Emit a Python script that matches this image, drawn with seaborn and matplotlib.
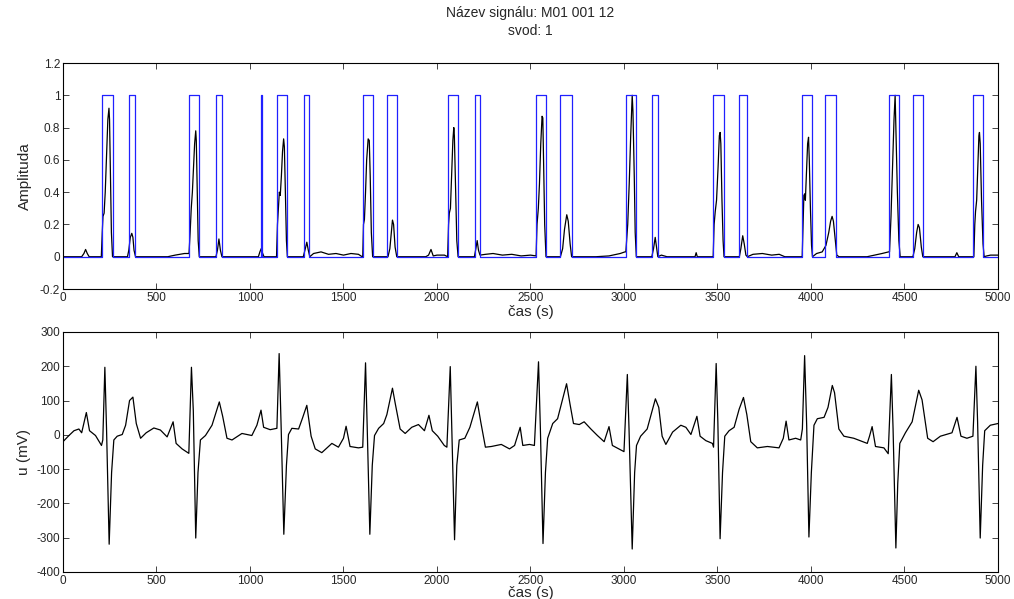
import matplotlib
matplotlib.use("Agg")
import matplotlib.pyplot as plt
import matplotlib.ticker as mticker
import pandas as pd
import seaborn as sns

# --- normalised amplitude (black trace, top panel) ---
amp_t = [0, 100, 112, 121, 130, 140, 205, 210, 214, 220, 226, 232, 240, 246, 249, 254, 259, 265,
         345, 352, 360, 368, 374, 380, 388, 560, 600, 650, 670,
         674, 680, 686, 692, 698, 704, 710, 713, 718, 723, 729,
         818, 826, 834, 842, 850, 1045, 1053, 1060, 1068, 1075,
         1142, 1147, 1152, 1157, 1162, 1168, 1174, 1180, 1184, 1190, 1195, 1200,
         1285, 1296, 1304, 1312, 1320, 1340, 1380, 1420, 1460, 1500, 1540, 1580, 1600,
         1603, 1607, 1612, 1618, 1624, 1632, 1638, 1643, 1649, 1656,
         1738, 1748, 1756, 1762, 1768, 1776, 1785, 1940, 1955, 1968, 1980, 2000, 2040,
         2057, 2062, 2066, 2072, 2078, 2085, 2090, 2093, 2100, 2106, 2113,
         2200, 2208, 2215, 2222, 2230, 2260, 2300, 2350, 2400, 2450, 2500, 2528,
         2530, 2535, 2542, 2548, 2555, 2562, 2566, 2570, 2576, 2583,
         2660, 2672, 2682, 2694, 2702, 2712, 2720, 2850, 2920, 2980, 3005,
         3010, 3020, 3028, 3036, 3044, 3048, 3055, 3060, 3066,
         3149, 3158, 3167, 3174, 3181, 3200, 3230, 3380, 3386, 3392, 3470,
         3477, 3482, 3488, 3495, 3503, 3510, 3514, 3518, 3524, 3530, 3535,
         3617, 3625, 3635, 3643, 3652, 3660, 3690, 3740, 3790, 3830, 3860, 3950,
         3953, 3958, 3962, 3967, 3970, 3975, 3982, 3987, 3991, 3997, 4003, 4008,
         4030, 4060, 4080, 4095, 4105, 4113, 4120, 4130, 4138, 4150, 4300, 4380, 4415,
         4420, 4428, 4436, 4444, 4450, 4454, 4462, 4470, 4477,
         4545, 4555, 4565, 4573, 4580, 4590, 4598, 4770, 4780, 4790, 4868,
         4871, 4876, 4880, 4886, 4892, 4898, 4901, 4905, 4912, 4920, 4926, 4940, 4960, 5000]
amp_v = [0, 0, 0.02, 0.045, 0.02, 0, 0, 0.15, 0.25, 0.27, 0.4, 0.6, 0.85, 0.92, 0.85, 0.5, 0.15, 0,
         0, 0.04, 0.12, 0.145, 0.12, 0.04, 0, 0, 0.01, 0.02, 0.02,
         0.02, 0.15, 0.3, 0.4, 0.55, 0.7, 0.78, 0.72, 0.4, 0.1, 0,
         0, 0.04, 0.11, 0.04, 0, 0, 0.03, 0.05, 0.02, 0,
         0, 0.2, 0.3, 0.4, 0.38, 0.5, 0.65, 0.73, 0.68, 0.35, 0.1, 0,
         0, 0.05, 0.09, 0.04, 0, 0.02, 0.03, 0.015, 0.02, 0.01, 0.02, 0.015, 0,
         0, 0.2, 0.23, 0.4, 0.6, 0.73, 0.72, 0.5, 0.15, 0,
         0, 0.05, 0.15, 0.227, 0.2, 0.06, 0, 0, 0.01, 0.045, 0.005, 0.01, 0.01,
         0, 0.2, 0.27, 0.3, 0.5, 0.72, 0.8, 0.75, 0.4, 0.1, 0,
         0, 0.05, 0.1, 0.04, 0.01, 0.015, 0.02, 0.01, 0.015, 0.005, 0.01, 0.005,
         0.005, 0.2, 0.3, 0.45, 0.7, 0.87, 0.86, 0.6, 0.2, 0,
         0, 0.05, 0.17, 0.26, 0.22, 0.08, 0, 0, 0.005, 0.02, 0.03,
         0.03, 0.2, 0.45, 0.75, 1.0, 0.9, 0.5, 0.15, 0,
         0, 0.05, 0.12, 0.06, 0, 0.01, 0, 0, 0.025, 0, 0,
         0, 0.2, 0.28, 0.35, 0.55, 0.75, 0.77, 0.7, 0.35, 0.1, 0,
         0, 0.05, 0.13, 0.08, 0.01, 0, 0.015, 0.02, 0.01, 0.015, 0, 0,
         0, 0.2, 0.38, 0.39, 0.35, 0.5, 0.7, 0.74, 0.6, 0.3, 0.07, 0,
         0.02, 0.03, 0.07, 0.15, 0.22, 0.25, 0.22, 0.1, 0.01, 0, 0, 0.02, 0.03,
         0.03, 0.25, 0.55, 0.85, 1.0, 0.8, 0.4, 0.1, 0,
         0, 0.05, 0.15, 0.2, 0.18, 0.06, 0, 0, 0.025, 0, 0,
         0, 0.2, 0.28, 0.35, 0.55, 0.75, 0.77, 0.7, 0.35, 0.08, 0, 0.005, 0.01, 0.01]

# --- detection windows (blue rectangles, value 1 inside) ---
win_start = [208, 351, 674, 817, 1059, 1144, 1288, 1603, 1734, 2057, 2202, 2530, 2660,
             3009, 3149, 3477, 3617, 3951, 4077, 4415, 4544, 4868]
win_end = [265, 384, 729, 849, 1062, 1199, 1318, 1658, 1784, 2113, 2230, 2583, 2720,
           3066, 3181, 3533, 3660, 4006, 4136, 4473, 4598, 4921]

# --- ECG lead, u (mV), bottom panel ---
ecg_t = [0, 32, 59, 85, 100, 125, 142, 174, 206, 213, 224, 233, 247, 260, 272, 290, 317, 335,
         356, 374, 392, 415, 445, 486, 521, 557, 589, 605, 637, 673, 687, 697, 710, 722, 735,
         762, 797, 836, 854, 877, 904, 957, 1010, 1037, 1059, 1073, 1108, 1144, 1156, 1167,
         1181, 1195, 1206, 1224, 1260, 1281, 1304, 1327, 1349, 1384, 1438, 1473, 1500, 1514,
         1535, 1580, 1603, 1618, 1627, 1641, 1654, 1666, 1688, 1715, 1732, 1762, 1777, 1803,
         1830, 1865, 1901, 1933, 1957, 1975, 2004, 2039, 2053, 2071, 2080, 2094, 2106, 2119,
         2149, 2176, 2216, 2234, 2259, 2291, 2344, 2388, 2415, 2445, 2459, 2495, 2521, 2543,
         2553, 2567, 2580, 2592, 2619, 2645, 2693, 2711, 2730, 2761, 2787, 2823, 2858, 2894,
         2920, 2938, 2973, 3000, 3018, 3027, 3044, 3057, 3067, 3089, 3124, 3168, 3186, 3204,
         3224, 3260, 3304, 3331, 3358, 3390, 3407, 3438, 3473, 3479, 3493, 3502, 3514, 3527,
         3539, 3562, 3589, 3616, 3639, 3657, 3678, 3713, 3767, 3829, 3852, 3867, 3882, 3918,
         3945, 3954, 3966, 3977, 3989, 4002, 4016, 4034, 4070, 4091, 4114, 4126, 4149, 4176,
         4229, 4301, 4313, 4327, 4345, 4390, 4413, 4430, 4439, 4454, 4464, 4475, 4505, 4541,
         4576, 4594, 4624, 4653, 4692, 4754, 4781, 4802, 4834, 4866, 4882, 4891, 4905, 4918,
         4929, 4959, 5000]
ecg_v = [-20, -2, 12, 17, 6, 65, 12, -2, -31, -15, 197, 17, -319, -110, -15, -4, 1, 28,
         100, 110, 33, -10, 6, 20, 14, -6, 38, -25, -41, -54, 197, 70, -301, -110, -15,
         -2, 28, 96, 54, -10, -15, 4, -2, 28, 72, 22, 15, 19, 237, 17,
         -290, -89, 1, 19, 17, 49, 86, -4, -41, -52, -25, -36, -10, 25,
         -34, -38, -36, 210, 20, -290, -89, -2, 19, 33, 59, 136, 91, 17,
         4, 22, 30, 12, 57, 12, -4, -31, -36, 199, 6, -306, -89, -15,
         -10, 22, 96, 38, -36, -34, -28, -41, -31, 22, -31, -28, -31, 213,
         17, -317, -110, -10, 33, 47, 149, 91, 33, 30, 38, 17, -2, -20,
         24, -31, -41, -49, 176, 17, -333, -110, -31, -4, 17, 105, 80, -4,
         -28, 8, 28, 22, 1, 54, -4, -17, -25, -36, 208, 38, -303, -110,
         -4, 12, 22, 75, 109, 59, -20, -38, -34, -38, -10, 40, -15, -10,
         -15, 17, 231, 28, -298, -110, 28, 47, 51, 80, 144, 123, 17, -4,
         -10, -25, -4, 24, -34, -38, -55, 176, 17, -330, -142, -25, 6, 38,
         130, 102, -10, -20, -4, 6, 51, -4, -10, -4, 200, 38, -301, -89,
         12, 28, 33]

x_ticks = list(range(0, 5001, 500))
amp_ticks = [-0.2, 0, 0.2, 0.4, 0.6, 0.8, 1.0, 1.2]
ecg_ticks = list(range(-400, 301, 100))

# build the step outline of the windows from start/end values
win_t, win_v = [0], [0]
for s, e in zip(win_start, win_end):
    win_t += [s, s, e, e]
    win_v += [0, 1, 1, 0]
win_t.append(5000)
win_v.append(0)

amp_df = pd.DataFrame({"t": amp_t, "v": amp_v})
win_df = pd.DataFrame({"t": win_t, "v": win_v})
ecg_df = pd.DataFrame({"t": ecg_t, "v": ecg_v})

sns.set_style("ticks")
plt.rcParams["font.family"] = ["Liberation Sans", "DejaVu Sans"]
plt.rcParams["axes.unicode_minus"] = False

fig = plt.figure(figsize=(10.14, 5.99), dpi=100)
ax1 = fig.add_axes([0.0621, 0.5175, 0.9221, 0.3773])
ax2 = fig.add_axes([0.0621, 0.0451, 0.9221, 0.4007])

sns.lineplot(data=amp_df, x="t", y="v", ax=ax1, sort=False, estimator=None,
             color="black", linewidth=0.9)
sns.lineplot(data=win_df, x="t", y="v", ax=ax1, sort=False, estimator=None,
             color="#2020ff", linewidth=0.9)
sns.lineplot(data=ecg_df, x="t", y="v", ax=ax2, sort=False, estimator=None,
             color="black", linewidth=0.9)

for ax, yt in [(ax1, amp_ticks), (ax2, ecg_ticks)]:
    ax.set_xlim(0, 5000)
    ax.set_ylim(yt[0], yt[-1])
    ax.set_xticks(x_ticks)
    ax.set_yticks(yt)
    ax.yaxis.set_major_formatter(mticker.FormatStrFormatter("%g"))
    ax.tick_params(direction="in", top=True, right=True, length=4, width=0.6,
                   labelsize=8.5, pad=2)
    for sp in ax.spines.values():
        sp.set_visible(True)
        sp.set_linewidth(0.8)
        sp.set_color("black")

ax1.set_xlabel("čas (s)", fontsize=11, labelpad=1)
ax1.set_ylabel("Amplituda", fontsize=11, labelpad=6)
ax2.set_xlabel("čas (s)", fontsize=11, labelpad=-0.5)
ax2.set_ylabel("u (mV)", fontsize=11, labelpad=4)

fig.text(0.523, 0.978, "Název signálu: M01 001 12", ha="center", va="center", fontsize=10)
fig.text(0.523, 0.948, "svod: 1", ha="center", va="center", fontsize=10)

fig.savefig("out.png", dpi=100)
